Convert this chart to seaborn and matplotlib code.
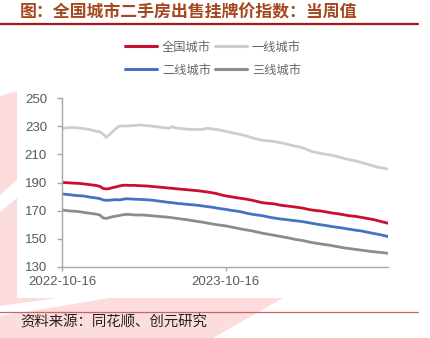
import numpy as np
import pandas as pd
import matplotlib
matplotlib.use("Agg")
import matplotlib.pyplot as plt
import matplotlib.dates as mdates
from matplotlib.patches import Polygon
from matplotlib.lines import Line2D
import seaborn as sns

# ---------------- data ----------------
start_date = "2022-10-16"
n_weeks = 105
tick_dates = ["2022-10-16", "2023-10-16"]
tick_labels = ["2022-10-16", "2023-10-16"]
y_ticks = [130, 150, 170, 190, 210, 230, 250]

series_names = ["全国城市", "一线城市", "二线城市", "三线城市"]

national = [
    190.0, 189.9, 189.8, 189.6, 189.5,
    189.4, 189.2, 189.0, 188.7, 188.4,
    188.1, 187.8, 187.2, 185.8, 185.4,
    185.7, 186.3, 186.8, 187.4, 187.9,
    188.1, 188.0, 187.9, 188.0, 187.8,
    187.7, 187.6, 187.5, 187.3, 187.1,
    186.9, 186.7, 186.5, 186.3, 186.0,
    185.9, 185.6, 185.4, 185.2, 185.0,
    184.8, 184.6, 184.4, 184.2, 183.9,
    183.6, 183.3, 183.0, 182.6, 182.2,
    181.6, 181.0, 180.5, 180.1, 179.8,
    179.4, 179.0, 178.7, 178.4, 178.0,
    177.6, 177.1, 176.6, 176.0, 175.6,
    175.3, 175.1, 174.9, 174.6, 174.1,
    173.7, 173.4, 173.2, 172.9, 172.6,
    172.3, 172.0, 171.6, 171.1, 170.6,
    170.3, 170.0, 169.8, 169.5, 169.1,
    168.7, 168.3, 168.0, 167.7, 167.3,
    166.9, 166.5, 166.2, 166.0, 165.7,
    165.3, 164.9, 164.5, 164.1, 163.7,
    163.2, 162.6, 162.0, 161.5, 160.9,
]

tier1 = [
    228.6, 228.8, 229.0, 229.2, 229.1,
    228.9, 228.6, 228.3, 228.0, 227.6,
    227.0, 226.5, 226.1, 224.5, 222.2,
    224.0, 226.2, 228.3, 230.0, 230.3,
    230.2, 230.3, 230.5, 230.6, 230.9,
    231.0, 230.7, 230.5, 230.4, 230.1,
    229.8, 229.5, 229.2, 228.9, 228.6,
    229.8, 229.0, 228.7, 228.4, 228.2,
    228.0, 227.9, 227.8, 227.9, 227.8,
    227.8, 228.6, 228.4, 228.1, 227.8,
    227.5, 227.0, 226.5, 226.1, 225.6,
    225.1, 224.6, 224.2, 223.6, 223.0,
    222.2, 221.6, 221.0, 220.5, 220.0,
    219.8, 219.6, 219.4, 219.0, 218.6,
    218.2, 217.7, 217.1, 216.6, 216.0,
    215.6, 215.1, 214.4, 213.5, 212.6,
    211.9, 211.4, 211.0, 210.5, 210.1,
    209.8, 209.4, 208.9, 208.3, 207.7,
    207.1, 206.6, 206.1, 205.6, 205.1,
    204.5, 203.9, 203.3, 202.6, 201.9,
    201.2, 200.7, 200.4, 200.0, 199.4,
]

tier2 = [
    181.8, 181.6, 181.4, 181.1, 180.8,
    180.6, 180.5, 180.3, 179.9, 179.5,
    179.2, 178.9, 178.5, 177.6, 177.3,
    177.4, 177.6, 177.8, 177.6, 177.9,
    178.3, 178.4, 178.2, 178.1, 178.0,
    177.9, 177.8, 177.7, 177.5, 177.3,
    177.0, 176.7, 176.4, 176.1, 175.8,
    175.6, 175.3, 175.0, 174.9, 174.6,
    174.4, 174.2, 174.0, 173.8, 173.5,
    173.2, 172.9, 172.6, 172.3, 171.9,
    171.5, 171.2, 170.9, 170.5, 170.1,
    169.8, 169.5, 169.1, 168.6, 168.0,
    167.6, 167.2, 166.9, 166.6, 166.3,
    165.8, 165.3, 164.9, 164.6, 164.2,
    163.9, 163.7, 163.4, 163.1, 162.8,
    162.6, 162.3, 162.0, 161.6, 161.2,
    160.8, 160.4, 160.0, 159.7, 159.4,
    159.0, 158.6, 158.3, 158.0, 157.7,
    157.3, 156.9, 156.6, 156.2, 155.9,
    155.6, 155.2, 154.7, 154.3, 153.8,
    153.4, 153.0, 152.5, 152.0, 151.4,
]

tier3 = [
    170.4, 170.1, 169.8, 169.6, 169.5,
    169.3, 169.0, 168.6, 168.3, 168.0,
    167.7, 167.4, 166.8, 164.8, 164.4,
    165.0, 165.6, 166.0, 166.4, 166.9,
    167.2, 167.3, 167.1, 166.9, 166.8,
    166.9, 166.8, 166.6, 166.4, 166.2,
    166.0, 165.8, 165.6, 165.4, 165.2,
    164.9, 164.6, 164.3, 164.0, 163.7,
    163.4, 163.0, 162.7, 162.3, 162.0,
    161.6, 161.2, 160.8, 160.4, 160.0,
    159.7, 159.4, 159.1, 158.7, 158.2,
    157.8, 157.4, 156.9, 156.5, 156.1,
    155.7, 155.3, 154.8, 154.3, 153.8,
    153.4, 153.0, 152.6, 152.2, 151.8,
    151.4, 151.0, 150.6, 150.1, 149.6,
    149.2, 148.9, 148.5, 148.0, 147.5,
    147.1, 146.7, 146.4, 146.0, 145.7,
    145.4, 145.0, 144.6, 144.2, 143.8,
    143.4, 143.1, 142.8, 142.5, 142.2,
    141.9, 141.6, 141.3, 141.0, 140.7,
    140.5, 140.3, 140.1, 139.8, 139.5,
]

colors = {"全国城市": "#C8102E", "一线城市": "#CDCDCD",
          "二线城市": "#4472C4", "三线城市": "#8C8C8C"}

# ---------------- build frame ----------------
dates = pd.date_range(start_date, periods=n_weeks, freq="7D")
frames = []
for name, vals in zip(series_names, [national, tier1, tier2, tier3]):
    frames.append(pd.DataFrame({"date": dates, "value": vals, "series": name}))
df = pd.concat(frames, ignore_index=True)

# ---------------- style ----------------
sns.set_theme(style="white")
plt.rcParams["font.family"] = ["Liberation Sans", "Noto Sans CJK SC", "DejaVu Sans"]

W, H = 430, 338
fig = plt.figure(figsize=(W / 100, H / 100), dpi=100)
fig.patch.set_facecolor("white")

def fx(x):
    return x / W

def fy(y):
    return 1 - y / H

PINK = "#FCDCDC"

def poly(pts, color, z=0):
    p = Polygon([(fx(a), fy(b)) for a, b in pts], closed=True, transform=fig.transFigure,
                facecolor=color, edgecolor="none", zorder=z)
    fig.add_artist(p)

# decorative background watermark
poly([(0, 96), (17, 91), (17, 180), (0, 195)], PINK)
poly([(0, 212), (17, 198), (17, 298), (0, 302)], PINK)
poly([(0, 298), (283, 298), (213, 338), (0, 338)], PINK)
poly([(0, 306), (57, 298), (110, 298), (0, 316)], "white", z=0.5)

ax = fig.add_axes([fx(62.3), fy(266.7), fx(388.3) - fx(62.3), fy(98.3) - fy(266.7)])
ax.set_facecolor("white")
ax.patch.set_alpha(0)

sns.lineplot(data=df, x="date", y="value", hue="series", hue_order=series_names,
             palette=colors, linewidth=2.0, ax=ax, legend=False)

ax.set_xlim(dates[0], dates[-1])
ax.set_ylim(130, 250)
ax.set_yticks(y_ticks)
ax.set_xticks(pd.to_datetime(tick_dates))
ax.set_xticklabels(tick_labels)
ax.set_xlabel("")
ax.set_ylabel("")

for s in ["top", "right"]:
    ax.spines[s].set_visible(False)
for s in ["left", "bottom"]:
    ax.spines[s].set_color("#A6A6A6")
    ax.spines[s].set_linewidth(1.0)

ax.tick_params(axis="y", length=3.5, width=1.0, color="#A6A6A6", pad=7.5,
               labelsize=9.5, labelcolor="#595959", left=True)
ax.tick_params(axis="x", length=3, width=1.0, color="#A6A6A6", pad=4,
               labelsize=9.5, labelcolor="#595959", bottom=True)

# legend (row-major order: matplotlib fills columns first)
leg_order = ["全国城市", "二线城市", "一线城市", "三线城市"]
handles = [Line2D([0], [0], color=colors[n], lw=2.2) for n in leg_order]
leg = fig.legend(handles, leg_order, ncol=2, loc="center",
                 bbox_to_anchor=(fx(213), fy(58.5)), frameon=False,
                 handlelength=2.6, handletextpad=0.4, columnspacing=0.35,
                 labelspacing=0.8, prop={"family": ["Noto Sans CJK SC"], "size": 8.8})
for t in leg.get_texts():
    t.set_color("#666666")

# title
fig.text(fx(20), fy(12), "图：全国城市二手房出售挂牌价指数：当周值",
         ha="left", va="center", fontsize=12.2, fontweight="bold",
         color="#A5481F", family=["Noto Sans CJK SC"])
fig.add_artist(Line2D([0, fx(418)], [fy(24), fy(24)], transform=fig.transFigure,
                      color="#A01818", lw=1.6))

# source
fig.add_artist(Line2D([0, fx(418)], [fy(312.3), fy(312.3)], transform=fig.transFigure,
                      color="#C86464", lw=0.9))
fig.text(fx(20), fy(322.5), "资料来源：同花顺、创元研究", ha="left", va="center",
         fontsize=10.4, color="#222222", family=["Noto Sans CJK SC"])

fig.savefig("out.png", dpi=100, facecolor="white")
